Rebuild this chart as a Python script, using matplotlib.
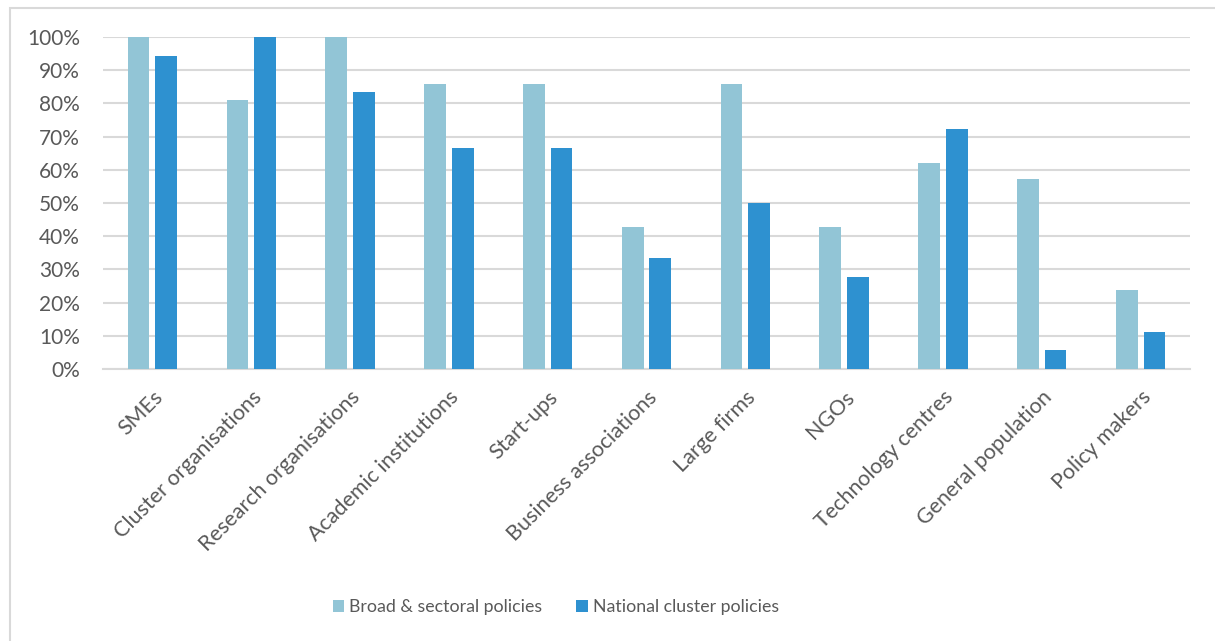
import matplotlib
matplotlib.use("Agg")
import matplotlib.pyplot as plt
from matplotlib.patches import Rectangle
from matplotlib.ticker import PercentFormatter
import numpy as np

categories = ["SMEs", "Cluster organisations", "Research organisations",
              "Academic institutions", "Start-ups", "Business associations",
              "Large firms", "NGOs", "Technology centres", "General population",
              "Policy makers"]
broad_sectoral = [100.0, 81.0, 100.0, 85.7, 85.7, 42.9, 85.7, 42.9, 61.9, 57.1, 23.8]
national_cluster = [94.4, 100.0, 83.3, 66.7, 66.7, 33.3, 50.0, 27.8, 72.2, 5.6, 11.1]
series_names = ["Broad & sectoral policies", "National cluster policies"]
yticks = [0, 10, 20, 30, 40, 50, 60, 70, 80, 90, 100]

light_blue = "#92C5D6"
mid_blue = "#2E91D0"
text_gray = "#595959"
grid_gray = "#D9D9D9"

plt.rcParams["font.family"] = ["Lato", "DejaVu Sans"]

W, H = 1215, 641
fig = plt.figure(figsize=(W / 100, H / 100), dpi=100)

# outer chart frame
fig.patches.append(Rectangle((10 / W, -0.01), 1.02, 1 - 8 / H + 0.01,
                             transform=fig.transFigure, fill=False,
                             edgecolor=grid_gray, linewidth=1.5))

ax = fig.add_axes([103 / W, 1 - 369 / H, (1190 - 103) / W, (369 - 37) / H])

x = np.arange(len(categories))
bw = 0.22
gap = 0.06
ax.bar(x - (bw + gap) / 2, broad_sectoral, width=bw, color=light_blue,
       label=series_names[0], zorder=3)
ax.bar(x + (bw + gap) / 2, national_cluster, width=bw, color=mid_blue,
       label=series_names[1], zorder=3)

ax.set_xlim(-0.5, len(categories) - 0.5)
ax.set_ylim(0, 100)
ax.set_yticks(yticks)
ax.yaxis.set_major_formatter(PercentFormatter(decimals=0))
ax.grid(axis="y", color=grid_gray, linewidth=1.5, zorder=0)
for s in ["top", "right", "left"]:
    ax.spines[s].set_visible(False)
ax.spines["bottom"].set_color(grid_gray)
ax.spines["bottom"].set_linewidth(1.5)
ax.tick_params(axis="both", length=0, colors=text_gray)
ax.tick_params(axis="y", pad=16.5, labelsize=15)

ax.set_xticks(x)
ax.set_xticklabels(categories, rotation=45, ha="right", va="top",
                   rotation_mode="anchor", fontsize=15.5, color=text_gray)
ax.tick_params(axis="x", pad=13)

leg = fig.legend(loc="center", bbox_to_anchor=(556 / W, 1 - 607 / H), ncol=2,
                 frameon=False, fontsize=12.8, handlelength=0.65,
                 handleheight=0.65, handletextpad=0.3, columnspacing=1.9)
for t in leg.get_texts():
    t.set_color(text_gray)

fig.savefig("out.png", dpi=100)
